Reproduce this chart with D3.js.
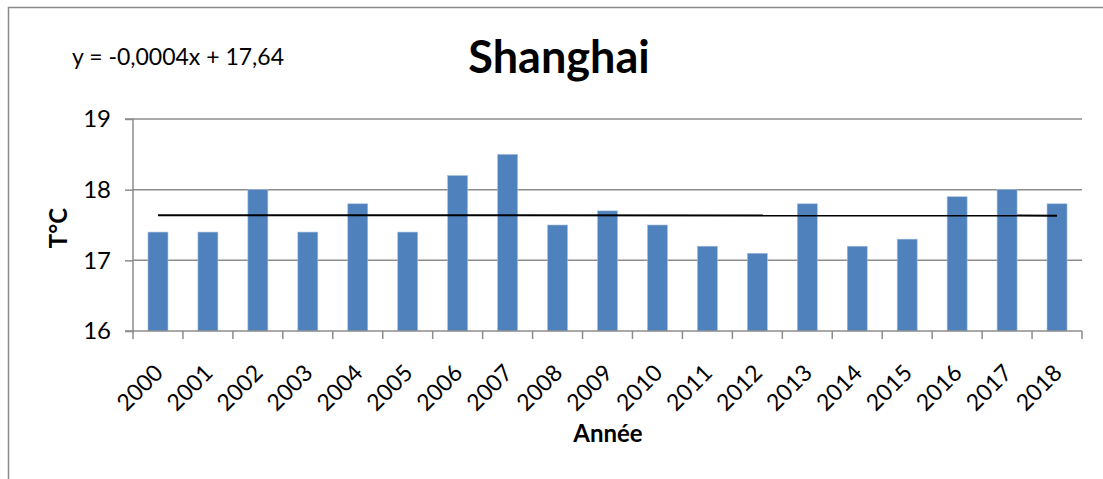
<!DOCTYPE html>
<html>
<head>
<meta charset="utf-8">
<script src="https://cdn.jsdelivr.net/npm/d3@7"></script>
<style>
  body { margin: 0; background: #fff; }
  svg text { font-family: Lato, "Open Sans", sans-serif; fill: #000; }
</style>
</head>
<body>
<div id="chart"></div>
<script>
const years = ['2000', '2001', '2002', '2003', '2004', '2005', '2006', '2007', '2008', '2009',
    '2010', '2011', '2012', '2013', '2014', '2015', '2016', '2017', '2018']
const temps = [17.4, 17.4, 18.0, 17.4, 17.8, 17.4, 18.2, 18.5, 17.5, 17.7,
    17.5, 17.2, 17.1, 17.8, 17.2, 17.3, 17.9, 18.0, 17.8]
const yTicks = [16, 17, 18, 19]
// Excel linear trendline, x = 1..n
const trendSlope = -0.0004
const trendIntercept = 17.64
const trendLabel = 'y = -0,0004x + 17,64'

const W = 1103
const H = 479
const margin = { top: 119, right: 20, bottom: 148, left: 133 }
const plotW = 1082 - margin.left
const plotH = 331 - margin.top

const svg = d3.select('#chart').append('svg')
    .attr('width', W)
    .attr('height', H)

// outer chart frame (cropped at right / bottom)
svg.append('path')
    .attr('d', 'M8.5,' + H + ' V7.5 H' + W)
    .attr('fill', 'none')
    .attr('stroke', '#8a8a8a')
    .attr('stroke-width', 1.5)

const g = svg.append('g')
    .attr('transform', 'translate(' + margin.left + ',' + margin.top + ')')

const x = d3.scaleBand()
    .domain(years)
    .range([0, plotW])
    .paddingInner(0.6)
    .paddingOuter(0.3)

const y = d3.scaleLinear()
    .domain([16, 19])
    .range([plotH, 0])

// gridlines
g.selectAll('.grid')
    .data(yTicks.slice(1))
    .enter().append('line')
    .attr('class', 'grid')
    .attr('x1', 0)
    .attr('x2', plotW)
    .attr('y1', (d) => y(d))
    .attr('y2', (d) => y(d))
    .attr('stroke', '#8c8c8c')
    .attr('stroke-width', 1.5)

// bars
g.selectAll('.bar')
    .data(temps)
    .enter().append('rect')
    .attr('class', 'bar')
    .attr('x', (d, i) => x(years[i]))
    .attr('y', (d) => y(d))
    .attr('width', x.bandwidth())
    .attr('height', (d) => plotH - y(d))
    .attr('fill', '#4f81bd')
    .attr('stroke', '#a7c0de')
    .attr('stroke-width', 0.6)

// y axis
const yAxis = g.append('g')
    .call(d3.axisLeft(y).tickValues(yTicks).tickSize(8).tickPadding(14).tickFormat(d3.format('d')))
yAxis.selectAll('line, path').attr('stroke', '#8c8c8c').attr('stroke-width', 1.5)
yAxis.select('.domain').attr('d', 'M-8,' + plotH + 'H0V0H-8')
yAxis.selectAll('text').attr('font-size', 24).attr('font-family', 'Lato, sans-serif')

// x axis with ticks on category boundaries
const xAxis = g.append('g')
    .attr('transform', 'translate(0,' + plotH + ')')
const bounds = d3.range(years.length + 1).map((i) => i * x.step())
xAxis.append('line')
    .attr('x1', 0).attr('x2', plotW)
    .attr('stroke', '#8c8c8c').attr('stroke-width', 1.5)
xAxis.selectAll('.tick')
    .data(bounds)
    .enter().append('line')
    .attr('x1', (d) => d).attr('x2', (d) => d)
    .attr('y1', 0).attr('y2', 8)
    .attr('stroke', '#8c8c8c').attr('stroke-width', 1.5)
xAxis.selectAll('.label')
    .data(years)
    .enter().append('text')
    .attr('class', 'label')
    .attr('transform', (d) => 'translate(' + (x(d) + x.bandwidth() / 2 - 5) + ',32) rotate(-45)')
    .attr('text-anchor', 'end')
    .attr('dy', '0.7em')
    .attr('font-size', 23)
    .text((d) => d)

// trendline over category centres
const trendX = d3.scaleLinear().domain([1, years.length])
    .range([x(years[0]) + x.bandwidth() / 2, x(years[years.length - 1]) + x.bandwidth() / 2])
g.append('line')
    .attr('x1', trendX(1))
    .attr('x2', trendX(years.length))
    .attr('y1', y(trendSlope * 1 + trendIntercept))
    .attr('y2', y(trendSlope * years.length + trendIntercept))
    .attr('stroke', '#000')
    .attr('stroke-width', 2)

// texts
svg.append('text')
    .attr('x', 559)
    .attr('y', 73)
    .attr('text-anchor', 'middle')
    .attr('font-size', 45)
    .attr('font-weight', 'bold')
    .text('Shanghai')

svg.append('text')
    .attr('x', 72)
    .attr('y', 65)
    .attr('font-size', 23)
    .text(trendLabel)

svg.append('text')
    .attr('transform', 'translate(67,228) rotate(-90)')
    .attr('text-anchor', 'middle')
    .attr('font-size', 24)
    .attr('font-weight', 'bold')
    .text('T°C')

svg.append('text')
    .attr('x', 608)
    .attr('y', 442)
    .attr('text-anchor', 'middle')
    .attr('font-size', 24)
    .attr('font-weight', 'bold')
    .text('Année')
</script>
</body>
</html>
